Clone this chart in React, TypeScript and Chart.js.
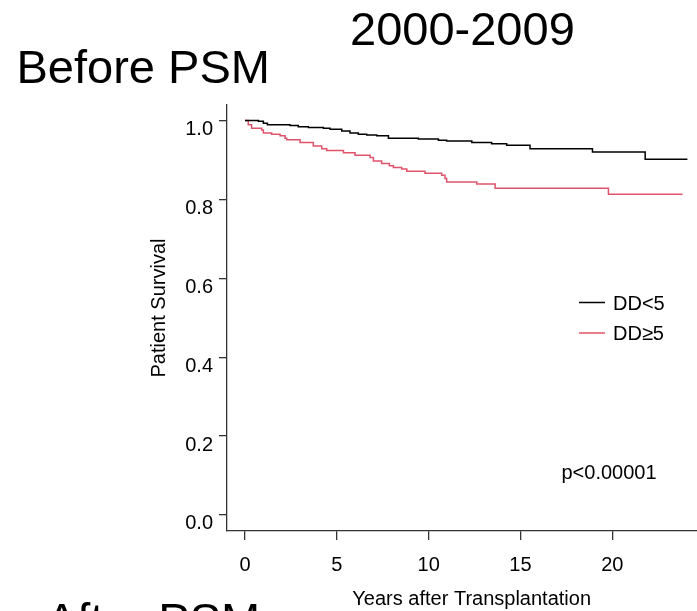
import React, { useEffect, useRef } from "react";
import { Chart, registerables } from "chart.js";

Chart.register(...registerables);

// ---- Data ----
const ddLt5Years = [0, 0.73, 1.0, 1.22, 2.45, 2.9, 3.45, 4.27, 4.63, 5.27, 5.72, 6.17, 6.63, 7.17, 7.81, 9.44, 10.53, 10.98, 12.35, 13.43, 14.25, 15.52, 18.92, 21.79, 24.09];
const ddLt5Survival = [1.0, 0.998, 0.993, 0.989, 0.987, 0.984, 0.982, 0.98, 0.978, 0.973, 0.968, 0.965, 0.963, 0.961, 0.955, 0.953, 0.95, 0.948, 0.944, 0.941, 0.937, 0.928, 0.92, 0.902, 0.902];

const ddGe5Years = [0, 0.18, 0.36, 0.91, 1.0, 1.45, 1.91, 2.18, 2.27, 3.0, 3.72, 4.18, 4.45, 5.36, 5.99, 6.81, 6.99, 7.44, 7.86, 8.08, 8.53, 8.81, 9.8, 10.71, 10.89, 10.98, 12.62, 13.62, 19.79, 23.82];
const ddGe5Survival = [1.0, 0.989, 0.98, 0.976, 0.968, 0.965, 0.961, 0.955, 0.951, 0.944, 0.935, 0.928, 0.924, 0.918, 0.912, 0.906, 0.897, 0.891, 0.885, 0.881, 0.877, 0.871, 0.866, 0.861, 0.853, 0.844, 0.839, 0.828, 0.813, 0.813];

const seriesLabels = ["DD<5", "DD\u22655"];
const seriesColors = ["#000000", "#DF536B"];
const xTickValues = [0, 5, 10, 15, 20];
const yTickValues = [0, 0.2, 0.4, 0.6, 0.8, 1.0];
const panelTitle = "Before PSM";
const periodTitle = "2000-2009";
const nextPanelTitle = "After PSM";
const xAxisTitle = "Years after Transplantation";
const yAxisTitle = "Patient Survival";
const pValueText = "p<0.00001";

const FONT = "'Liberation Sans', Arial, Helvetica, sans-serif";
const AXIS_COLOR = "#333333";

const annotationPlugin = {
  id: "kmAnnotations",
  afterDraw(chart: any) {
    const ctx = chart.ctx as CanvasRenderingContext2D;
    ctx.save();
    ctx.fillStyle = "#000";
    ctx.textBaseline = "alphabetic";
    ctx.textAlign = "left";
    ctx.font = `47px ${FONT}`;
    ctx.fillText(panelTitle, 16.5, 82.7);
    ctx.fillText(periodTitle, 350, 45);
    ctx.fillText(nextPanelTitle, 46, 636);

    ctx.font = `20px ${FONT}`;
    ctx.textAlign = "center";
    ctx.fillText(xAxisTitle, 471.7, 605);

    ctx.save();
    ctx.translate(165, 308);
    ctx.rotate(-Math.PI / 2);
    ctx.fillText(yAxisTitle, 0, 0);
    ctx.restore();

    // legend
    ctx.textAlign = "left";
    const legendY = [302.5, 333];
    seriesLabels.forEach((lab, i) => {
      ctx.strokeStyle = seriesColors[i];
      ctx.lineWidth = 1.5;
      ctx.beginPath();
      ctx.moveTo(579, legendY[i]);
      ctx.lineTo(605, legendY[i]);
      ctx.stroke();
      ctx.fillStyle = "#000";
      ctx.fillText(lab, 613, legendY[i] + 7.2);
    });

    ctx.fillText(pValueText, 561.5, 479);
    ctx.restore();
  },
};

export default function App() {
  const canvasRef = useRef<HTMLCanvasElement | null>(null);

  useEffect(() => {
    document.body.style.margin = "0";
    const canvas = canvasRef.current;
    if (!canvas) return;
    const chart = new Chart(canvas, {
      type: "line",
      data: {
        datasets: [
          {
            label: seriesLabels[0],
            data: ddLt5Years.map((t, i) => ({ x: t, y: ddLt5Survival[i] })),
            borderColor: seriesColors[0],
            borderWidth: 1.5,
            stepped: true,
            pointRadius: 0,
            fill: false,
          },
          {
            label: seriesLabels[1],
            data: ddGe5Years.map((t, i) => ({ x: t, y: ddGe5Survival[i] })),
            borderColor: seriesColors[1],
            borderWidth: 1.5,
            stepped: true,
            pointRadius: 0,
            fill: false,
          },
        ],
      },
      options: {
        animation: false,
        responsive: false,
        maintainAspectRatio: false,
        layout: { padding: { top: 105, left: 0, right: 0, bottom: 0 } },
        plugins: {
          legend: { display: false },
          tooltip: { enabled: false },
          title: { display: false },
        },
        scales: {
          x: {
            type: "linear",
            min: -0.98,
            max: 24.612,
            afterBuildTicks: (s: any) => {
              s.ticks = xTickValues.map((v) => ({ value: v }));
            },
            afterFit: (s: any) => {
              s.height = 80;
            },
            grid: {
              drawOnChartArea: false,
              drawTicks: true,
              tickLength: 9,
              color: AXIS_COLOR,
              lineWidth: 1.3,
            },
            border: { display: true, color: AXIS_COLOR, width: 1.3 },
            ticks: {
              color: "#000",
              font: { family: FONT, size: 20 },
              padding: 13,
              maxRotation: 0,
              autoSkip: false,
              callback: (v: any) => String(v),
            },
          },
          y: {
            type: "linear",
            min: -0.0406,
            max: 1.0392,
            afterBuildTicks: (s: any) => {
              s.ticks = yTickValues.map((v) => ({ value: v }));
            },
            afterFit: (s: any) => {
              s.width = 227;
            },
            grid: {
              drawOnChartArea: false,
              drawTicks: true,
              tickLength: 8,
              color: AXIS_COLOR,
              lineWidth: 1.3,
            },
            border: { display: true, color: AXIS_COLOR, width: 1.3 },
            ticks: {
              color: "#000",
              font: { family: FONT, size: 20 },
              padding: 6,
              labelOffset: 9,
              autoSkip: false,
              callback: (v: any) => Number(v).toFixed(1),
            },
          },
        },
      },
      plugins: [annotationPlugin],
    });
    return () => chart.destroy();
  }, []);

  return (
    <div style={{ position: "absolute", left: 0, top: 0, width: 697, height: 611, background: "#fff" }}>
      <canvas ref={canvasRef} width={697} height={611} style={{ display: "block" }} />
    </div>
  );
}
